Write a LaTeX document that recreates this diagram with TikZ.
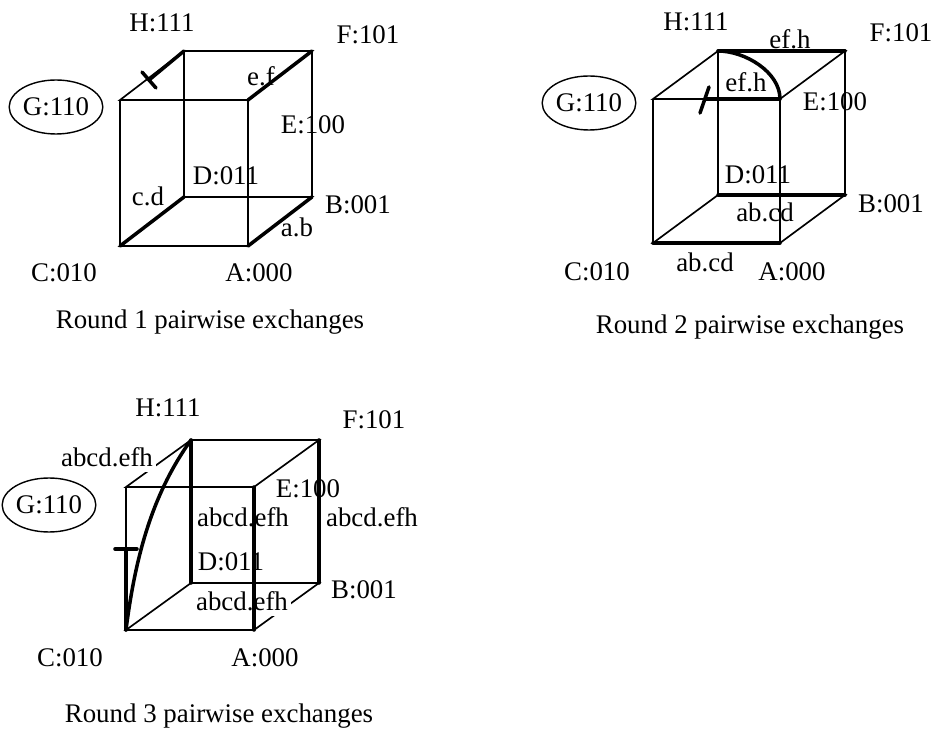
\documentclass[tikz,border=0pt]{standalone}
\usepackage{fontspec}
\setmainfont{Liberation Serif}
\usepackage{tikz}
\usetikzlibrary{shapes.geometric}
\tikzset{
  lbl/.style={inner sep=0pt, text height=10pt, text depth=0pt},
  blank/.style={lbl, fill=white, inner xsep=2pt, inner ysep=3pt},
  failed/.style={draw, ellipse, line width=0.8pt, inner sep=0pt, minimum width=1.76cm, minimum height=1.08cm},
  thinedge/.style={line width=0.95pt},
  xchg/.style={line width=2pt, line cap=round}
}

\begin{document}
\begin{tikzpicture}[x=0.02cm, y=-0.02cm, font=\fontsize{15.3}{18}\selectfont]
  \useasboundingbox (0,0) rectangle (933,729);
  % cube corners and thin edges
  \foreach \c/\x/\y/\w/\h/\dx/\dy in {one/120/246/128/146/64/49, two/653/243/127/144/65/48, three/126/630/128/143/65/47}{
    \coordinate (\c C) at (\x,\y);
    \coordinate (\c A) at (\x+\w,\y);
    \coordinate (\c D) at (\x+\dx,\y-\dy);
    \coordinate (\c B) at (\x+\w+\dx,\y-\dy);
    \coordinate (\c G) at (\x,\y-\h);
    \coordinate (\c E) at (\x+\w,\y-\h);
    \coordinate (\c H) at (\x+\dx,\y-\h-\dy);
    \coordinate (\c F) at (\x+\w+\dx,\y-\h-\dy);
    \draw[thinedge] (\c C) -- (\c A) -- (\c B) -- (\c D) -- cycle;
    \draw[thinedge] (\c G) -- (\c E) -- (\c F) -- (\c H) -- cycle;
    \draw[thinedge] (\c C) -- (\c G);
    \draw[thinedge] (\c A) -- (\c E);
    \draw[thinedge] (\c B) -- (\c F);
    \draw[thinedge] (\c D) -- (\c H);
  }
  % corner labels
  \foreach \n/\t/\x/\y in {
      oneLH/H:111/162/23, oneLF/F:101/368/35, oneLE/E:100/313/125, oneLD/D:011/226/176,
      oneLB/B:001/358/205, oneLC/C:010/64/273, oneLA/A:000/259/273,
      twoLH/H:111/696/22, twoLF/F:101/901/33, twoLE/E:100/835/102, twoLD/D:011/758/175,
      twoLB/B:001/891/204, twoLC/C:010/597/272, twoLA/A:000/792/272,
      threeLH/H:111/168/408, threeLF/F:101/374/420, threeLE/E:100/308/489, threeLD/D:011/231/562,
      threeLB/B:001/364/590, threeLC/C:010/70/658, threeLA/A:000/265/658}{
    \node[lbl] (\n) at (\x,\y) {\t};
  }
  \node[failed] (oneG) at (56,107) {G:110};
  \node[failed] (twoG) at (589,103) {G:110};
  \node[failed] (threeG) at (49,505) {G:110};

  % round 1
  \coordinate (oneTickA) at (142,72);
  \coordinate (oneTickB) at (156,88);
  \coordinate (oneTickM) at (149,80);
  \draw[xchg] (oneA) -- (oneB);
  \draw[xchg] (oneC) -- (oneD);
  \draw[xchg] (oneE) -- (oneF);
  \draw[xchg] (oneTickM) -- (oneH);
  \draw[xchg] (oneTickA) -- (oneTickB);
  \node[lbl] (oneEF) at (261,77) {e.f};
  \node[lbl] (oneCD) at (148,197) {c.d};
  \node[lbl] (oneAB) at (297,228) {a.b};
  \node[lbl] (oneTitle) at (210,320) {Round 1 pairwise exchanges};

  % round 2
  \coordinate (twoTickA) at (709,87);
  \coordinate (twoTickB) at (700,113);
  \coordinate (twoTickM) at (705,99);
  \draw[xchg] (twoC) -- (twoA);
  \draw[xchg] (twoD) -- (twoB);
  \draw[xchg] (twoH) -- (twoF);
  \draw[xchg] (twoTickM) -- (twoE);
  \draw[xchg] (twoTickA) -- (twoTickB);
  \draw[xchg] (twoH) .. controls (745,51) and (780,72) .. (twoE);
  \node[lbl] (twoTop) at (790,40) {ef.h};
  \node[lbl] (twoIn) at (746,83) {ef.h};
  \node[lbl] (twoUp) at (765,213) {ab.cd};
  \node[lbl] (twoLow) at (705,263) {ab.cd};
  \node[lbl] (twoTitle) at (750,325) {Round 2 pairwise exchanges};

  % round 3
  \node[blank] (threeGH) at (107,458) {abcd.efh};
  \node[blank] (threeAB) at (242,602) {abcd.efh};
  \node[lbl] (threeMid) at (243,518) {abcd.efh};
  \node[lbl] (threeRight) at (372,518) {abcd.efh};
  \coordinate (threeTickA) at (115,549);
  \coordinate (threeTickB) at (137,549);
  \coordinate (threeTickM) at (126,549);
  \draw[xchg] (threeA) -- (threeE);
  \draw[xchg] (threeB) -- (threeF);
  \draw[xchg] (threeD) -- (threeH);
  \draw[xchg] (threeC) -- (threeTickM);
  \draw[xchg] (threeTickA) -- (threeTickB);
  \draw[xchg] (threeC) .. controls (136,550) and (155,490) .. (threeH);
  \node[lbl] (threeTitle) at (219,714) {Round 3 pairwise exchanges};
\end{tikzpicture}
\end{document}
